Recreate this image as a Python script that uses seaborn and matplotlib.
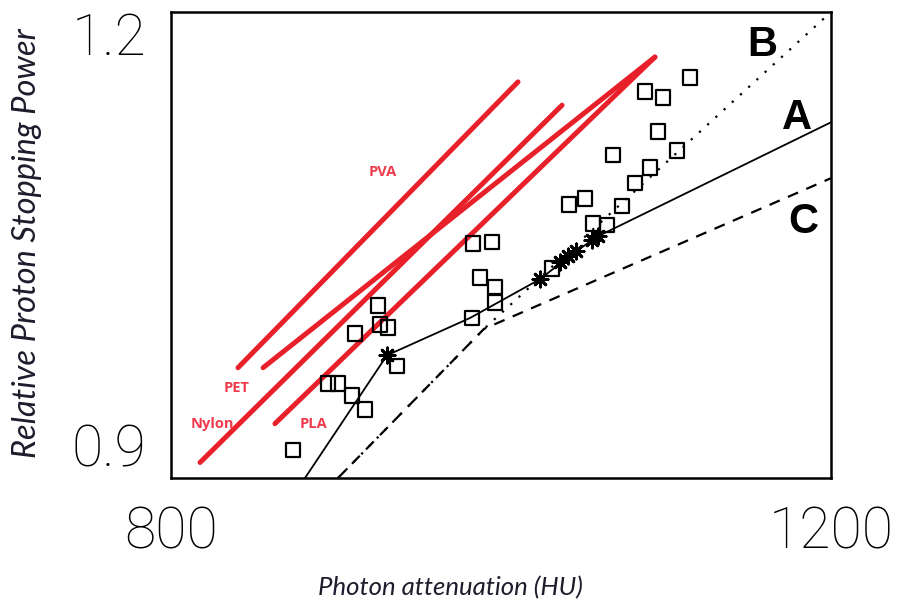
import matplotlib
matplotlib.use("Agg")
from matplotlib import pyplot as plt
import pandas as pd
import seaborn as sns

# red filament lines (start / end)
red_names = ["PVA", "PET", "Nylon", "PLA"]
red_x = [[840.6, 1010.3], [855.8, 1093.3], [817.6, 1037.0], [863.0, 1093.3]]
red_y = [[0.971, 1.155], [0.971, 1.171], [0.910, 1.140], [0.935, 1.171]]
red_lbl_x = [928.5, 840.0, 824.8, 886.1]
red_lbl_y = [1.097, 0.958, 0.935, 0.935]

# calibration curves
a_x = [881.2, 930.9, 981.2, 1023.6, 1041.8, 1057.6, 1200.0]
a_y = [0.900, 0.979, 1.003, 1.028, 1.043, 1.055, 1.129]
b_x = [901.2, 989.7, 1200.0]
b_y = [0.900, 0.996, 1.200]
c_x = [901.2, 989.7, 1200.0]
c_y = [0.900, 0.996, 1.093]

# tissue points (stars) and measured points (squares)
star_x = [930.9, 1023.6, 1035.8, 1040.6, 1045.5, 1055.2, 1058.8]
star_y = [0.979, 1.028, 1.039, 1.043, 1.046, 1.053, 1.056]
sq_x = [873.9, 895.2, 901.2, 909.7, 917.6, 937.0, 911.5, 925.5, 926.7, 931.5,
        982.4, 996.4, 987.3, 996.4, 983.0, 994.5, 1030.9, 1041.2, 1050.9, 1055.8,
        1064.2, 1073.3, 1081.2, 1090.3, 1106.7, 1095.2, 1067.9, 1087.3, 1098.2, 1114.5]
sq_y = [0.918, 0.961, 0.961, 0.953, 0.944, 0.972, 0.993, 1.011, 0.999, 0.997,
        1.003, 1.013, 1.029, 1.023, 1.051, 1.052, 1.035, 1.076, 1.080, 1.064,
        1.063, 1.075, 1.090, 1.100, 1.111, 1.123, 1.108, 1.149, 1.145, 1.158]

curve_lbl = ["B", "A", "C"]
curve_lbl_x = [1158.2, 1179.4, 1183.0]
curve_lbl_y = [1.179, 1.132, 1.065]

sns.set_theme(style="white")
plt.rcParams["font.family"] = ["Liberation Sans", "DejaVu Sans"]

fig = plt.figure(figsize=(9.01, 6.06), dpi=100)
ax = fig.add_axes([0.1898, 0.2112, 0.7325, 0.769])

for xs, ys in zip(red_x, red_y):
    sns.lineplot(x=xs, y=ys, ax=ax, color="#e8202a", linewidth=3.6,
                 sort=False, estimator=None, solid_capstyle="round")
for name, lx, ly in zip(red_names, red_lbl_x, red_lbl_y):
    ax.text(lx, ly, name, color="#f03a4c", fontsize=10.5, fontweight="bold",
            ha="center", va="center", family=["Open Sans", "DejaVu Sans"])

sns.lineplot(x=a_x, y=a_y, ax=ax, color="black", linewidth=1.3, sort=False, estimator=None)
sns.lineplot(x=b_x, y=b_y, ax=ax, color="black", linewidth=1.6, sort=False,
             estimator=None, linestyle=(0, (1, 4)))
sns.lineplot(x=c_x, y=c_y, ax=ax, color="black", linewidth=1.6, sort=False,
             estimator=None, linestyle=(0, (5, 4)))

sns.scatterplot(x=sq_x, y=sq_y, ax=ax, marker="s", s=110, facecolor="none",
                edgecolor="black", linewidth=1.6, zorder=3)
sns.scatterplot(x=star_x, y=star_y, ax=ax, marker=(8, 2, 0), s=120,
                color="black", edgecolor="black", linewidth=2, zorder=4)

for t, lx, ly in zip(curve_lbl, curve_lbl_x, curve_lbl_y):
    ax.text(lx, ly, t, fontsize=30, fontweight="bold", color="black",
            ha="center", va="center")

ax.set_xlim(800, 1200)
ax.set_ylim(0.9, 1.2)
ax.set_xticks([800, 1200])
ax.set_xticklabels(["800", "1200"])
ax.set_yticks([0.9, 1.2])
ax.set_yticklabels(["0.9", "1.2"])
ax.tick_params(axis="both", length=0, labelsize=41, colors="black")
ax.tick_params(axis="x", pad=20)
ax.tick_params(axis="y", pad=18)
for lab in ax.get_xticklabels() + ax.get_yticklabels():
    lab.set_family(["Roboto", "DejaVu Sans"])
    lab.set_fontweight("light")
ax.get_yticklabels()[0].set_va("bottom")
ax.get_yticklabels()[1].set_va("top")

for sp in ax.spines.values():
    sp.set_color("black")
    sp.set_linewidth(1.8)

ax.set_xlabel("Photon attenuation (HU)", family=["Lato", "DejaVu Sans"],
              style="italic", fontsize=18.5, color="#1c1c2c")
ax.set_ylabel("Relative Proton Stopping Power", family=["Lato", "DejaVu Sans"],
              style="italic", fontsize=23.5, color="#1c1c2c")
ax.xaxis.set_label_coords((450 - 171) / 660, -(576 - 478) / 466)
ax.yaxis.set_label_coords(-(171 - 42) / 660, (478 - 243) / 466)

fig.savefig("out.png", dpi=100)
plt.close(fig)
